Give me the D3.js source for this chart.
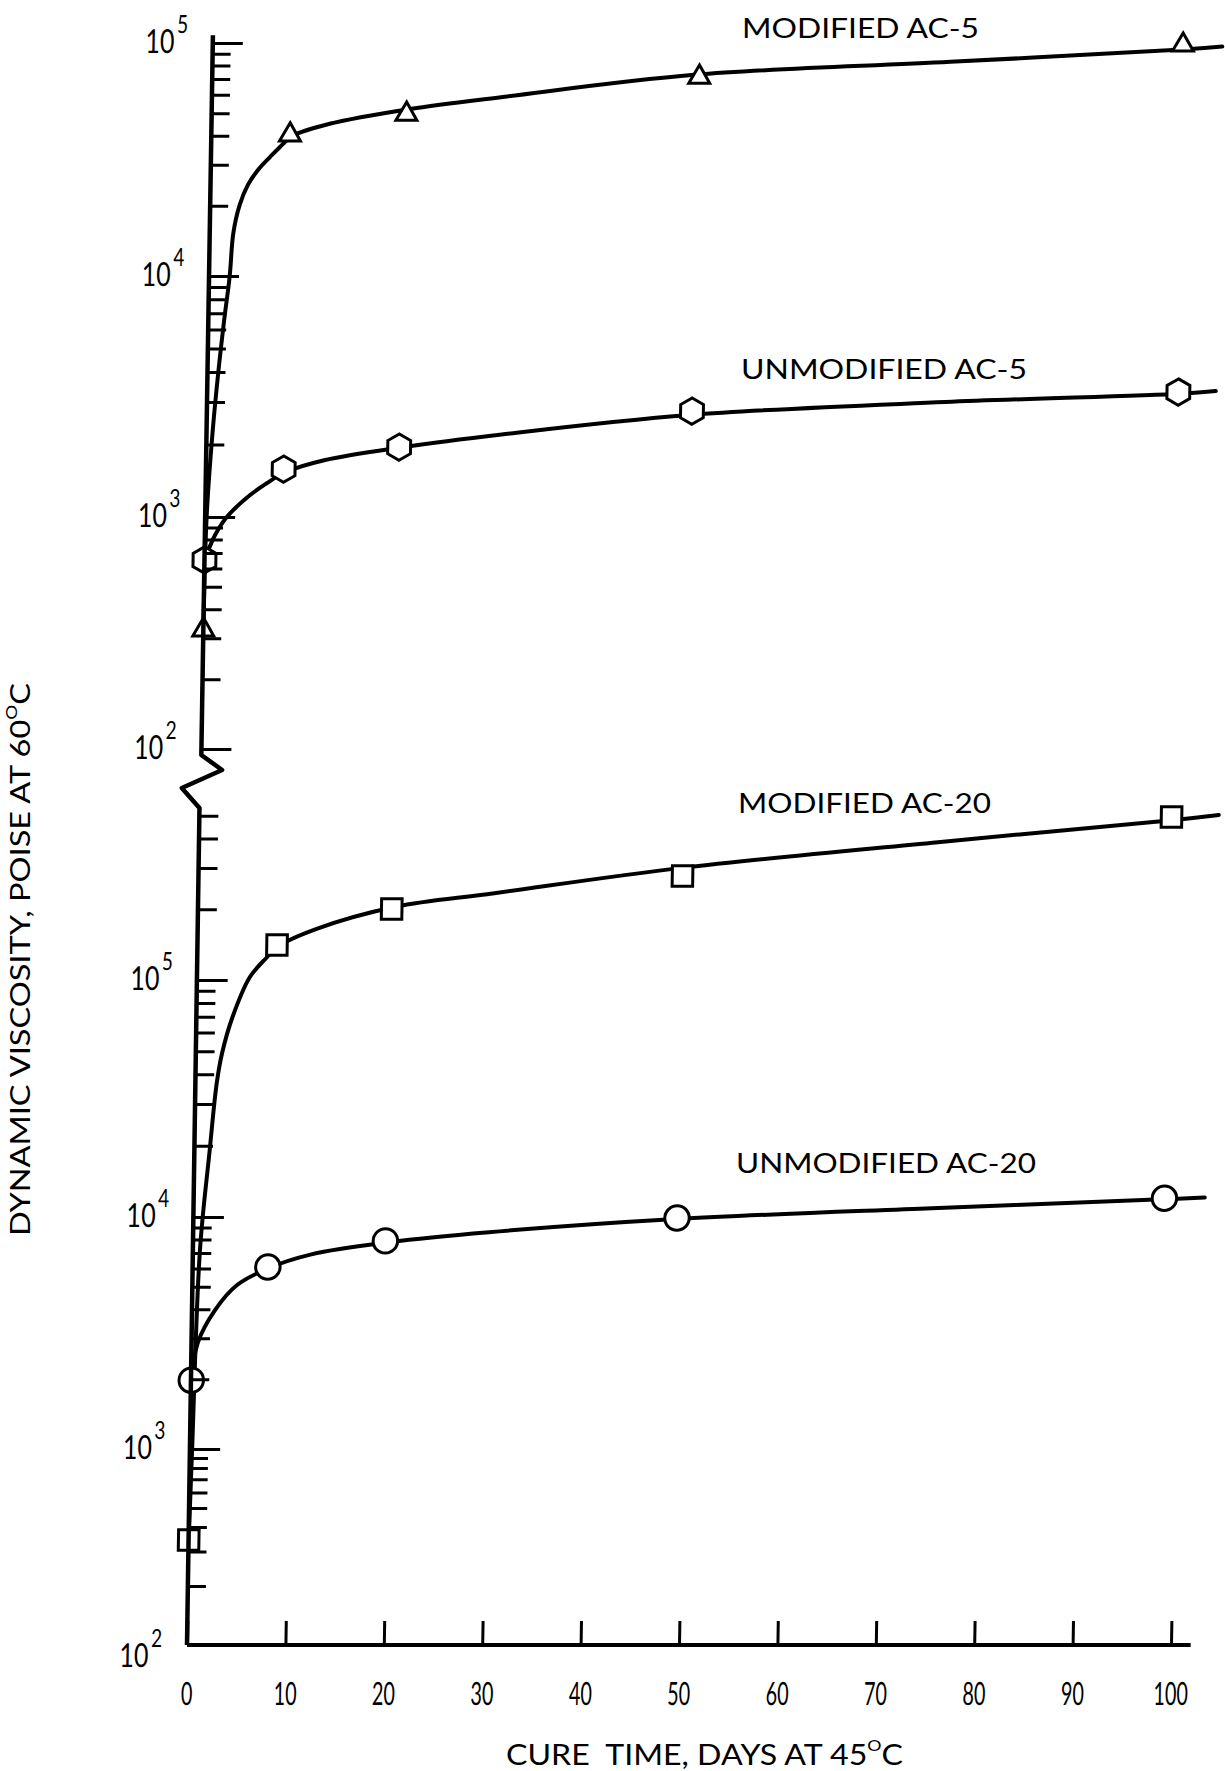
<!DOCTYPE html>
<html>
<head>
<meta charset="utf-8">
<script src="https://cdn.jsdelivr.net/npm/d3@7"></script>
<style>
  html, body { margin: 0; padding: 0; background: #fff; }
  svg { display: block; }
  text { font-family: Lato, "Open Sans", sans-serif; fill: #000; }
</style>
</head>
<body>
<svg id="chart" width="1225" height="1771"></svg>
<script>
// cure time (days at 45 C) and viscosity (poise at 60 C) of the plotted points
var modAc5Days = [0, 8, 19.8, 49.5, 98.6];
var modAc5Visc = [326, 40300, 49500, 71400, 98000];
var unmodAc5Days = [0, 7.9, 19.6, 49.3, 98.7];
var unmodAc5Visc = [653, 1580, 1950, 2750, 3300];
var modAc20Days = [0, 8, 19.6, 49.1, 98.7];
var modAc20Visc = [343, 141000, 200500, 277000, 494000];
var unmodAc20Days = [0, 7.6, 19.5, 49.1, 98.6];
var unmodAc20Visc = [1980, 6090, 7890, 9900, 12000];

// hand drawn curves, [day, poise]
var modAc5Curve = [[0, 330], [0.15, 1000], [0.6, 2200], [1.1, 4000], [1.6, 6500], [2.1, 10000],
  [2.4, 15300], [3.0, 20200], [3.8, 24600], [4.8, 28500], [6, 32400], [7, 35800], [8.3, 40000],
  [12, 45000], [20, 52000], [30, 59000], [49, 73000], [75, 83000], [99, 94000], [102.6, 96500]];
var unmodAc5Curve = [[0, 650], [1, 830], [2.2, 1000], [4.5, 1230], [6.2, 1380], [8, 1530],
  [12, 1720], [20, 1950], [30, 2200], [49, 2650], [75, 3000], [99, 3250], [102.5, 3330]];
var modAc20Curve = [[0, 343], [0.2, 1000], [0.67, 7200], [1.5, 19200], [2.1, 36700],
  [2.6, 49200], [3.6, 69800], [5.3, 103000], [7, 125000], [8, 138000], [12, 165000],
  [20, 205000], [30, 234000], [49, 300000], [75, 386000], [99, 480000], [103.5, 504000]];
var unmodAc20Curve = [[0, 1980], [0.6, 2870], [2.3, 3970], [4.5, 5090], [7.6, 6000],
  [12, 6900], [20, 7800], [30, 8600], [49, 9800], [75, 10900], [99, 11900], [102.7, 12100]];

var xTickValues = [0, 10, 20, 30, 40, 50, 60, 70, 80, 90, 100];
var topExponents = [2, 3, 4, 5];
var bottomExponents = [2, 3, 4, 5];

var svg = d3.select("#chart");

// the printed value axis is broken in two stacked log panels, and its decades
// are not drawn quite evenly, so each panel gets a piecewise log scale
var x = d3.scaleLinear().domain([0, 100]).range([187, 1171]);
var yTop = d3.scaleLog().domain([1e2, 1e3, 1e4, 1e5]).range([749, 517, 276, 43]);
var yBot = d3.scaleLog().domain([1e2, 1e3, 1e4, 1e5, 1e6]).range([1645, 1449, 1217, 980, 745]);
var y0 = yBot(100);

// the whole drawing leans a little to the right going up
var slant = 0.0161;
var plot = svg.append("g")
  .attr("transform", "translate(0," + y0 + ") skewX(" + (-Math.atan(slant) * 180 / Math.PI) + ") translate(0," + (-y0) + ")");

var hexagon = {
  draw: function(context, size) {
    var r = Math.sqrt(size / (3 * Math.sqrt(3) / 2));
    for (var i = 0; i < 6; i++) {
      var a = (-90 + 60 * i) * Math.PI / 180;
      if (i === 0) context.moveTo(r * Math.cos(a), r * Math.sin(a));
      else context.lineTo(r * Math.cos(a), r * Math.sin(a));
    }
    context.closePath();
  }
};

var series = [
  {days: modAc5Days, visc: modAc5Visc, curve: modAc5Curve, y: yTop, symbol: d3.symbolTriangle, size: 190},
  {days: unmodAc5Days, visc: unmodAc5Visc, curve: unmodAc5Curve, y: yTop, symbol: hexagon, size: 450},
  {days: modAc20Days, visc: modAc20Visc, curve: modAc20Curve, y: yBot, symbol: d3.symbolSquare, size: 420},
  {days: unmodAc20Days, visc: unmodAc20Visc, curve: unmodAc20Curve, y: yBot, symbol: d3.symbolCircle, size: 470}
];

// curves
series.forEach(function(s) {
  var line = d3.line()
    .x(function(d) { return x(d[0]); })
    .y(function(d) { return s.y(d[1]); })
    .curve(d3.curveCatmullRom.alpha(0.5));
  plot.append("path")
    .attr("d", line(s.curve))
    .attr("fill", "none")
    .attr("stroke", "#000")
    .attr("stroke-width", 4)
    .attr("stroke-linecap", "round");
});

// markers
series.forEach(function(s) {
  plot.append("g").selectAll("path")
    .data(s.days)
    .join("path")
    .attr("transform", function(d, i) { return "translate(" + x(d) + "," + s.y(s.visc[i]) + ")"; })
    .attr("d", d3.symbol().type(s.symbol).size(s.size))
    .attr("fill", "#fff")
    .attr("stroke", "#000")
    .attr("stroke-width", 3);
});

// value axis with the break between the panels
var ax = x(0);
var axisPts = [
  [ax, yTop(1.08e5)], [ax, yTop(100) + 6],
  [ax + 21, yTop(100) + 21], [ax - 19, yTop(100) + 39],
  [ax - 1, yBot(5.4e5)], [ax, y0]
];
plot.append("path")
  .attr("d", d3.line()(axisPts))
  .attr("fill", "none")
  .attr("stroke", "#000")
  .attr("stroke-width", 4.5)
  .attr("stroke-linejoin", "round");

function isPow10(v) { return Math.abs(Math.log10(v) - Math.round(Math.log10(v))) < 1e-9; }

var topMinor = yTop.ticks().filter(function(v) { return !isPow10(v); });
var botMinor = yBot.ticks().filter(function(v) { return !isPow10(v) && v <= 5e5; });
var topMajor = topExponents.map(function(e) { return Math.pow(10, e); });
var botMajor = bottomExponents.filter(function(e) { return e > 2; }).map(function(e) { return Math.pow(10, e); });

function tickGroup(scale, values, len) {
  plot.append("g")
    .attr("transform", "translate(" + ax + ",0)")
    .call(d3.axisRight(scale).tickValues(values).tickSize(len).tickFormat(""))
    .call(function(g) { g.select(".domain").remove(); })
    .selectAll("line")
    .attr("stroke", "#000")
    .attr("stroke-width", 3);
}
tickGroup(yTop, topMinor, 18);
tickGroup(yBot, botMinor, 18);
tickGroup(yTop, topMajor, 30);
tickGroup(yBot, botMajor, 30);

// decade labels 10^n
function decadeLabels(scale, exps) {
  var lab = plot.append("g").selectAll("g")
    .data(exps)
    .join("g")
    .attr("transform", function(e) {
      var yy = scale(Math.pow(10, e)) + (scale === yBot && e === 2 ? 22 : 10);
      return "translate(" + (ax - 25) + "," + yy + ")";
    })
    .append("text")
    .attr("text-anchor", "end")
    .attr("transform", "scale(0.76,1)")
    .attr("font-size", 33);
  lab.append("tspan").text("10");
  lab.append("tspan").attr("font-size", 25).attr("dy", -20).attr("dx", 3).text(function(e) { return e; });
}
decadeLabels(yTop, topExponents);
decadeLabels(yBot, bottomExponents);

// time axis
plot.append("line")
  .attr("x1", x(0)).attr("x2", x(102))
  .attr("y1", y0).attr("y2", y0)
  .attr("stroke", "#000")
  .attr("stroke-width", 4);

var xAxis = plot.append("g")
  .attr("transform", "translate(0," + y0 + ")")
  .call(d3.axisBottom(x).tickValues(xTickValues).tickSize(-24).tickPadding(37))
  .call(function(g) { g.select(".domain").remove(); });
xAxis.selectAll("line").attr("stroke", "#000").attr("stroke-width", 3);
xAxis.selectAll("text")
  .attr("font-size", 32)
  .attr("font-family", "Lato, sans-serif")
  .attr("fill", "#000")
  .attr("transform", "scale(0.62,1)");

// series labels
var labels = [
  {text: "MODIFIED AC-5", x: 742, y: 38, w: 237},
  {text: "UNMODIFIED AC-5", x: 741, y: 379, w: 286},
  {text: "MODIFIED AC-20", x: 738, y: 813, w: 253},
  {text: "UNMODIFIED AC-20", x: 736, y: 1173, w: 300}
];
svg.append("g").selectAll("text")
  .data(labels)
  .join("text")
  .attr("x", function(d) { return d.x; })
  .attr("y", function(d) { return d.y; })
  .attr("font-size", 26)
  .attr("textLength", function(d) { return d.w; })
  .attr("lengthAdjust", "spacingAndGlyphs")
  .text(function(d) { return d.text; });

// axis titles
var xt = svg.append("text")
  .attr("x", 506).attr("y", 1765)
  .attr("font-size", 29)
  .attr("textLength", 397)
  .attr("lengthAdjust", "spacingAndGlyphs")
  .style("white-space", "pre");
xt.append("tspan").text("CURE  TIME, DAYS AT 45");
xt.append("tspan").attr("font-size", 16).attr("dy", -14).text("O");
xt.append("tspan").attr("dy", 14).text("C");

var yt = svg.append("text")
  .attr("transform", "translate(30,1236) rotate(-90)")
  .attr("font-size", 26)
  .attr("textLength", 553)
  .attr("lengthAdjust", "spacingAndGlyphs");
yt.append("tspan").text("DYNAMIC VISCOSITY, POISE AT 60");
yt.append("tspan").attr("font-size", 15).attr("dy", -13).text("O");
yt.append("tspan").attr("dy", 13).text("C");
</script>
</body>
</html>
